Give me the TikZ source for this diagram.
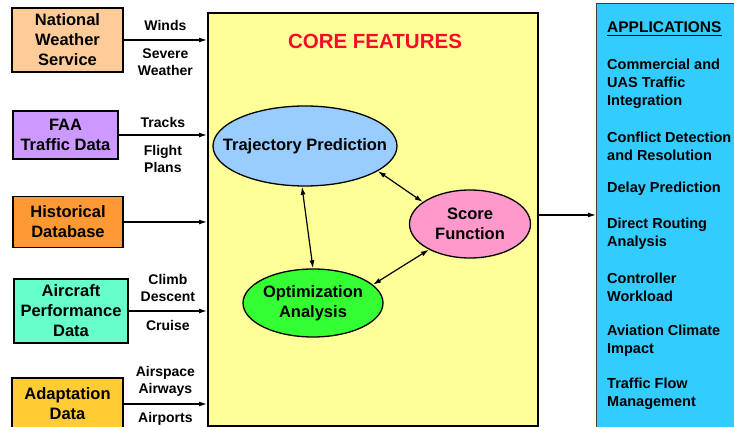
\documentclass[tikz,border=0pt]{standalone}
\usepackage{fontspec}
\setmainfont{Liberation Sans}
\usetikzlibrary{arrows.meta,shapes.geometric}

\definecolor{nwsfill}{HTML}{FFCC99}
\definecolor{faafill}{HTML}{CC99FF}
\definecolor{histfill}{HTML}{FF9933}
\definecolor{perffill}{HTML}{66FFCC}
\definecolor{adaptfill}{HTML}{FFCC33}
\definecolor{corefill}{HTML}{FFFF99}
\definecolor{trajfill}{HTML}{99CCFF}
\definecolor{scorefill}{HTML}{FF99CC}
\definecolor{optfill}{HTML}{33FF33}
\definecolor{appfill}{HTML}{33CCFF}
\definecolor{titlered}{RGB}{250,10,40}

\tikzset{
  srcbox/.style={draw=black, line width=1.6pt, inner sep=0pt, align=center,
    font=\fontsize{16.5}{20}\selectfont\bfseries},
  feature/.style={ellipse, draw=black, line width=1.3pt, inner sep=0pt, align=center,
    font=\fontsize{16.5}{20}\selectfont\bfseries},
  flowlbl/.style={inner sep=0pt, align=center, font=\fontsize{14}{17}\selectfont\bfseries},
  applbl/.style={inner sep=0pt, align=left, anchor=west, font=\fontsize{14.5}{18}\selectfont\bfseries},
  arr/.style={line width=1.2pt, -{Latex[length=8pt,width=5pt]}},
  biarr/.style={line width=1.2pt, {Latex[length=8pt,width=5pt]}-{Latex[length=8pt,width=5pt]}},
}

\begin{document}
\begin{tikzpicture}[x=1pt,y=-1pt]
\useasboundingbox (0,0) rectangle (734,427);
\clip (0,0) rectangle (734,427);

% central block of core features
\node[draw=black, line width=2pt, fill=corefill, minimum width=330, minimum height=413,
      inner sep=0pt, anchor=north west] (core) at (207,12) {};
\node[font=\fontsize{20.5}{24}\selectfont\bfseries, text=titlered] (coretitle) at (375,41) {CORE FEATURES};

% applications panel
\node[draw=black!75, line width=1pt, fill=appfill, minimum width=160, minimum height=450,
      inner sep=0pt, anchor=north west] (apps) at (596,3) {};
\node[inner sep=0pt, anchor=west, font=\fontsize{15.5}{18}\selectfont\bfseries] (apptitle) at (607,27) {APPLICATIONS};
\draw[line width=1.6pt] ([yshift=-3pt]apptitle.base west) -- ([yshift=-3pt]apptitle.base east);
\node[applbl] (app1) at (607,84) {Commercial and\\UAS Traffic\\Integration};
\node[applbl] (app2) at (607,146) {Conflict Detection\\and Resolution};
\node[applbl] (app3) at (607,189) {Delay Prediction};
\node[applbl] (app4) at (607,234) {Direct Routing\\Analysis};
\node[applbl] (app5) at (607,287.5) {Controller\\Workload};
\node[applbl] (app6) at (607,340.5) {Aviation Climate\\Impact};
\node[applbl] (app7) at (607,393.5) {Traffic Flow\\Management};

% data sources
\node[srcbox, fill=nwsfill, minimum width=111, minimum height=64] (nws) at (67.5,40) {National\\Weather\\Service};
\node[srcbox, fill=faafill, minimum width=105, minimum height=48] (faa) at (65.5,135) {FAA\\Traffic Data};
\node[srcbox, fill=histfill, minimum width=110, minimum height=51] (hist) at (68,222) {Historical\\Database};
\node[srcbox, fill=perffill, minimum width=114, minimum height=64] (perf) at (71,311) {Aircraft\\Performance\\Data};
\node[srcbox, fill=adaptfill, minimum width=111, minimum height=52] (adapt) at (67.5,404) {Adaptation\\Data};

% inputs into the core
\draw[arr] (nws.east) -- (nws.east -| core.west)
  node[flowlbl, midway, yshift=14pt] (l1) {Winds}
  node[flowlbl, midway, yshift=-22pt] (l2) {Severe\\Weather};
\draw[arr] (faa.east) -- (faa.east -| core.west)
  node[flowlbl, midway, yshift=13pt] (l3) {Tracks}
  node[flowlbl, midway, yshift=-23.5pt] (l4) {Flight\\Plans};
\draw[arr] (hist.east) -- (hist.east -| core.west);
\draw[arr] (perf.east) -- (perf.east -| core.west)
  node[flowlbl, midway, yshift=23pt] (l5) {Climb\\Descent}
  node[flowlbl, midway, yshift=-14pt] (l6) {Cruise};
\draw[arr] (adapt.east) -- (adapt.east -| core.west)
  node[flowlbl, midway, yshift=22.5pt] (l7) {Airspace\\Airways}
  node[flowlbl, midway, yshift=-15pt] (l8) {Airports};

% core features
\node[feature, fill=trajfill, minimum width=184, minimum height=80, inner xsep=-18pt] (traj) at (305,146) {Trajectory Prediction};
\node[feature, fill=scorefill, minimum width=121, minimum height=68] (score) at (470,224) {Score\\Function};
\node[feature, fill=optfill, minimum width=140, minimum height=68, inner xsep=-2pt] (opt) at (313,303) {Optimization\\Analysis};

\draw[biarr] (traj.-19) -- (score.155);
\draw[biarr] ([xshift=-3pt]traj.south) -- (opt.north);
\draw[biarr] (score.212) -- (opt.17);

% output to applications
\draw[arr] ([yshift=4.5pt]core.east) coordinate (coreout) -- (coreout -| apps.west);
\end{tikzpicture}
\end{document}
